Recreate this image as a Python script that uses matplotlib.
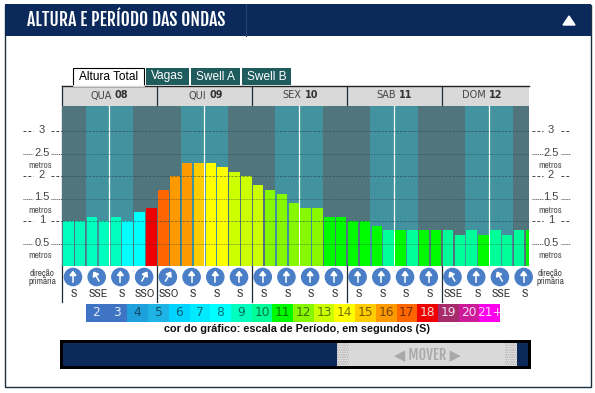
# -*- coding: utf-8 -*-
import numpy as np
import matplotlib
matplotlib.use('Agg')
import matplotlib.pyplot as plt
from matplotlib.patches import Rectangle, Circle, Polygon

W, H = 595, 393
NAVY = '#0b2a5b'

# DATA
days = ['QUA', 'QUI', 'SEX', 'SAB', 'DOM']
dates = ['08', '09', '10', '11', '12']
heights = [1.0, 1.0, 1.1, 1.0, 1.1, 1.0, 1.2, 1.3,
           1.7, 2.0, 2.3, 2.3, 2.3, 2.2, 2.1, 2.0,
           1.8, 1.7, 1.6, 1.4, 1.3, 1.3, 1.1, 1.1,
           1.0, 1.0, 0.9, 0.8, 0.8, 0.8, 0.8, 0.8,
           0.8, 0.7, 0.8, 0.7, 0.8, 0.7, 0.8, 0.8]
periods = [9, 9, 9, 9, 9, 8, 8, 18,
           17, 16, 16, 15, 14, 14, 13, 13,
           13, 12, 12, 12, 12, 12, 11, 11,
           11, 11, 11, 10, 11, 10, 11, 11,
           10, 10, 10, 11, 10, 10, 10, 11]
directions = ['S', 'SSE', 'S', 'SSO', 'SSO', 'S', 'S', 'S', 'S', 'S',
              'S', 'S', 'S', 'S', 'S', 'S', 'SSE', 'S', 'SSE', 'S']
scale_labels = ['2', '3', '4', '5', '6', '7', '8', '9', '10', '11', '12',
                '13', '14', '15', '16', '17', '18', '19', '20', '21+']
scale_colors = ['#3f74c4', '#3f74c4', '#1ea0dc', '#1fb4e6', '#00d5ff', '#00eaff',
                '#00ffff', '#00ffbf', '#00ff99', '#00fa00', '#88f800',
                '#ccff00', '#ffff00', '#ffcc00', '#ff9900', '#ff6600',
                '#ee0000', '#a62b6b', '#cc1a99', '#ff00ee']
y_ticks = [0.5, 1, 1.5, 2, 2.5, 3]
tabs = ['Altura Total', 'Vagas', 'Swell A', 'Swell B']
tilt = {'S': 0, 'SSE': 30, 'SSO': -30}

HEAVY = ['Fjalla One', 'Roboto', 'DejaVu Sans']
NARROW = ['Archivo Narrow', 'Roboto', 'DejaVu Sans']
ARIAL = ['Liberation Sans', 'DejaVu Sans']

fig = plt.figure(figsize=(W / 100, H / 100), dpi=100)
bg = fig.add_axes([0, 0, 1, 1])
bg.set_xlim(0, W)
bg.set_ylim(H, 0)
bg.axis('off')


def box(x0, y0, x1, y1, color, z=1, **kw):
    bg.add_patch(Rectangle((x0, y0), x1 - x0, y1 - y0, facecolor=color,
                           edgecolor=kw.pop('edge', 'none'), zorder=z, **kw))


# FRAME AND HEADER
box(4.5, 4.5, 590.5, 387, 'white', edge='#1b2f3f', linewidth=1)
box(4.5, 4, 591, 36, NAVY, z=2)
bg.plot([246, 246], [4, 36], color='#27436f', lw=0.8, zorder=3)
bg.add_patch(Polygon([[563, 25], [575, 25], [569, 16]], color='white', zorder=3))
bg.text(27, 20.5, 'ALTURA E PERÍODO DAS ONDAS', family=HEAVY,
        fontsize=12.7, color='white', va='center', zorder=3)

# TABS
tab_x = [(73, 144), (146, 189), (191, 240), (242, 291)]
for i, (lab, (x0, x1)) in enumerate(zip(tabs, tab_x)):
    if i == 0:
        box(x0, 67.5, x1, 86, 'white', z=2, edge='black', linewidth=0.8)
        bg.plot([x0 + 0.5, x1 - 0.5], [86, 86], color='white', lw=1.2, zorder=3)
    else:
        box(x0, 67.5, x1, 85, '#1f5c5e', z=2)
    bg.text((x0 + x1) / 2, 76.5, lab, family=ARIAL, fontsize=8.6,
            color='black' if i == 0 else 'white', ha='center', va='center', zorder=3)

# CHART
X0, X1, Y0, Y1 = 62, 529, 106, 266
PITCH = 11.86
ax = fig.add_axes([X0 / W, 1 - Y1 / H, (X1 - X0) / W, (Y1 - Y0) / H])
ax.set_xlim(0, (X1 - X0) / PITCH)
ax.set_ylim(0, (Y1 - Y0) / 45)
ax.axis('off')
for d in range(5):
    ax.axvspan(8 * d, 8 * d + 2, color='#51757c', lw=0, zorder=1)
    ax.axvspan(8 * d + 2, 8 * d + 6, color='#42929f', lw=0, zorder=1)
    ax.axvspan(8 * d + 6, 8 * d + 8, color='#51757c', lw=0, zorder=1)
    ax.axvline(8 * d + 4, color='white', lw=0.9, zorder=2)
bar_colors = [scale_colors[p - 2] for p in periods]
ax.bar(np.arange(40) + 0.54, heights, width=0.88, color=bar_colors, zorder=3)
for v in y_ticks:
    ax.axhline(v, color='#27404a', lw=0.6, zorder=4,
               linestyle=(0, (1, 1)) if v % 1 else (0, (3, 1.5)), alpha=0.6)

# Y LABELS, BOTH SIDES
for cx, l0, l1, r0, r1 in [(42, 23, 33, 51, 62), (551, 532, 543, 561, 570)]:
    for v in y_ticks:
        y = Y1 - v * 45
        ls = (0, (1, 1)) if v % 1 else (0, (3, 2))
        bg.plot([l0, l1], [y, y], color='#444444', lw=0.7, linestyle=ls, zorder=3)
        bg.plot([r0, r1], [y, y], color='#444444', lw=0.7, linestyle=ls, zorder=3)
        bg.text(cx, y - 1, '%g' % v, fontsize=8, color='#444444', ha='center',
                va='center', family=ARIAL, zorder=4)
        if v % 1:
            bg.text(cx - 2 if cx < 100 else cx - 1, y + 12, 'metros', fontsize=6.8,
                    color='#555555', ha='center', va='center', family=NARROW, zorder=4)

# DAY HEADER ROW
box(X0, 85.5, X1, Y0, '#d9d9d9', z=1)
bg.plot([X0, X1], [85.5, 85.5], color='#222222', lw=1, zorder=2)
for d in range(5):
    xs = X0 + 0.3 + 8 * d * PITCH
    if d < 4:
        cx = xs + 4 * PITCH
    else:
        cx = 484
    bg.text(cx + 2, 98.5, days[d], fontsize=7, color='#444444', ha='right', va='baseline')
    bg.text(cx + 5, 98.5, dates[d], fontsize=7, color='#333333', weight='bold',
            ha='left', va='baseline')
    bg.plot([xs, xs], [85.5, 302], color='#1c2c34', lw=0.9, zorder=5)

# DIRECTION ROW
for side_x0, side_x1 in [(23, 62), (532, 570)]:
    box(side_x0, 264, side_x1, 302, '#eeeeee', z=0.5)
    bg.text((side_x0 + side_x1) / 2 - 0.5, 277.5, 'direção\nprimária', fontsize=6.6,
            color='#444444', ha='center', va='center', family=NARROW,
            linespacing=1.0, zorder=2)
for i, lab in enumerate(directions):
    cx = X0 + 0.3 + (0.9 + 2 * i) * PITCH
    bg.add_patch(Circle((cx, 277), 8.6, color='#4a7fc7', zorder=3))
    a = np.radians(tilt[lab])
    ux, uy = np.sin(-a), -np.cos(a)
    tipx, tipy = cx + 5.5 * ux, 277 + 5.5 * uy
    bg.plot([cx - 4.5 * ux, tipx - ux], [277 - 4.5 * uy, tipy - uy], color='white',
            lw=1.1, zorder=4)
    px, py = -uy, ux
    bg.add_patch(Polygon([[tipx, tipy],
                          [tipx - 4 * ux + 3 * px, tipy - 4 * uy + 3 * py],
                          [tipx - 4 * ux - 3 * px, tipy - 4 * uy - 3 * py]],
                         color='white', zorder=4))
    bg.text(cx + 1, 294, lab, fontsize=8.5, family=NARROW, color='#333333',
            ha='center', va='center', zorder=4)

# PERIOD SCALE
sx0, sx1 = 86, 500
cw = (sx1 - sx0) / len(scale_labels)
for i, (lab, col) in enumerate(zip(scale_labels, scale_colors)):
    box(sx0 + i * cw, 304, sx0 + (i + 1) * cw + 0.3, 322, col, z=2)
    light = i in (0, 1, 16, 17, 18, 19)
    bg.text(sx0 + (i + 0.5) * cw, 312.5, lab, fontsize=8.8,
            color='white' if light else 'black', alpha=0.85 if light else 0.55,
            ha='center', va='center', zorder=3, family=['DejaVu Sans'])
bg.text(296.5, 329.5, 'cor do gráfico: escala de Período, em segundos (S)', family=ARIAL,
        weight='bold', fontsize=7.85, color='#111111', ha='center', va='center')

# SCROLLER
box(60, 340, 531, 369, 'black', z=2)
box(63, 343, 528, 366, NAVY, z=3)
box(337, 343, 517, 366, '#d9d9d9', z=4)
for x0 in (337, 505):
    box(x0, 343, x0 + 12, 366, '#e8e8e8', z=5, hatch='.......', linewidth=0, edge='#aaaaaa')
bg.text(427, 354.5, '◀ MOVER ▶', family=['Fjalla One', 'DejaVu Sans'],
        fontsize=10.5, color='#a9a9a9', ha='center', va='center', zorder=6)

fig.savefig('out.png', dpi=100)
